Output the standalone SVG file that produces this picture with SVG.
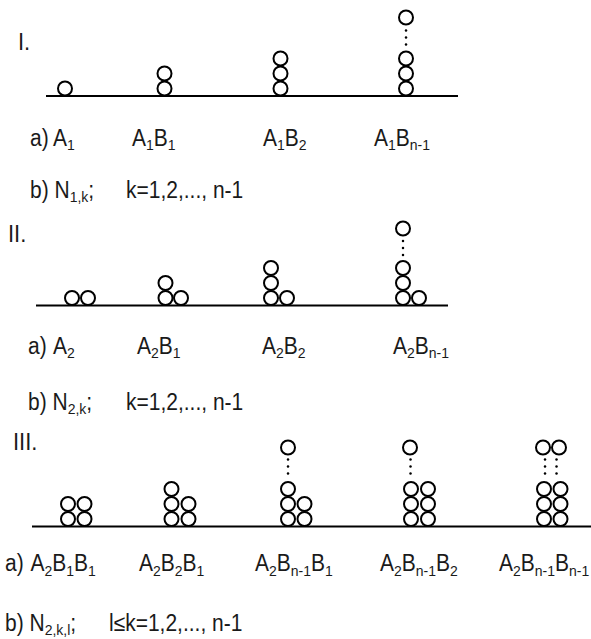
<svg xmlns="http://www.w3.org/2000/svg" width="591" height="639" viewBox="0 0 591 639">
<style>
.t{font-family:"Liberation Sans",Arial,sans-serif;font-size:21px;fill:#1a1a1a}
.r{font-size:22px}
.s{font-size:14px}
.c{fill:none;stroke:#000;stroke-width:2}
.d{fill:#000}
.g{stroke:#000;stroke-width:2}
</style>
<defs>
<circle id="b" r="7" class="c"/>
<g id="dots"><circle cx="0" cy="0" r="1.25" class="d"/><circle cx="0" cy="7" r="1.25" class="d"/><circle cx="0" cy="14" r="1.25" class="d"/></g>
</defs>
<rect width="591" height="639" fill="#fff"/>

<g id="ground">
<line x1="46" y1="96" x2="458" y2="96" class="g"/>
<line x1="36" y1="305.5" x2="448" y2="305.5" class="g"/>
<line x1="32" y1="526.5" x2="591" y2="526.5" class="g"/>
</g>

<!-- Section I -->
<g id="secI">
<g transform="matrix(1 0 0 1.1 0 -5)"><text class="t r" x="18" y="50">I.</text></g>
<g id="I-A1"><use href="#b" x="65" y="88.5"/></g>
<g id="I-A1B1"><use href="#b" x="164.5" y="88.5"/><use href="#b" x="164.5" y="73.5"/></g>
<g id="I-A1B2"><use href="#b" x="280.5" y="88.5"/><use href="#b" x="280.5" y="73.5"/><use href="#b" x="280.5" y="58.5"/></g>
<g id="I-A1Bn1"><use href="#b" x="406" y="88.5"/><use href="#b" x="406" y="73.5"/><use href="#b" x="406" y="58.5"/><use href="#b" x="406" y="17.5"/><use href="#dots" x="406" y="30.5"/></g>
<g transform="matrix(1 0 0 1.1 0 -14.6)">
<text class="t" x="30" y="146">a)</text>
<text class="t" x="53" y="146">A<tspan class="s" dy="4">1</tspan></text>
<text class="t" x="132" y="146">A<tspan class="s" dy="4">1</tspan><tspan dy="-4">B</tspan><tspan class="s" dy="4">1</tspan></text>
<text class="t" x="263" y="146">A<tspan class="s" dy="4">1</tspan><tspan dy="-4">B</tspan><tspan class="s" dy="4">2</tspan></text>
<text class="t" x="374" y="146">A<tspan class="s" dy="4">1</tspan><tspan dy="-4">B</tspan><tspan class="s" dy="4">n-1</tspan></text>
</g>
<g transform="matrix(1 0 0 1.1 0 -19.8)">
<text class="t" x="30" y="198">b) N<tspan class="s" dy="4">1,k</tspan><tspan dy="-4">;</tspan></text>
<text class="t" x="126" y="198">k=1,2,..., n-1</text>
</g>
</g>

<!-- Section II -->
<g id="secII">
<g transform="matrix(1 0 0 1.1 0 -24.2)"><text class="t r" x="8" y="242">II.</text></g>
<g id="II-A2"><use href="#b" x="72" y="298"/><use href="#b" x="88" y="298"/></g>
<g id="II-A2B1"><use href="#b" x="165.5" y="298"/><use href="#b" x="165.5" y="283"/><use href="#b" x="181" y="298"/></g>
<g id="II-A2B2"><use href="#b" x="271" y="298"/><use href="#b" x="271" y="283"/><use href="#b" x="271" y="268"/><use href="#b" x="287" y="298"/></g>
<g id="II-A2Bn1"><use href="#b" x="403" y="298"/><use href="#b" x="403" y="283"/><use href="#b" x="403" y="268"/><use href="#b" x="419" y="298"/><use href="#b" x="403" y="228.5"/><use href="#dots" x="403" y="241"/></g>
<g transform="matrix(1 0 0 1.1 0 -35.4)">
<text class="t" x="28" y="354">a)</text>
<text class="t" x="53" y="354">A<tspan class="s" dy="4">2</tspan></text>
<text class="t" x="137" y="354">A<tspan class="s" dy="4">2</tspan><tspan dy="-4">B</tspan><tspan class="s" dy="4">1</tspan></text>
<text class="t" x="262" y="354">A<tspan class="s" dy="4">2</tspan><tspan dy="-4">B</tspan><tspan class="s" dy="4">2</tspan></text>
<text class="t" x="393" y="354">A<tspan class="s" dy="4">2</tspan><tspan dy="-4">B</tspan><tspan class="s" dy="4">n-1</tspan></text>
</g>
<g transform="matrix(1 0 0 1.1 0 -41)">
<text class="t" x="28" y="410">b) N<tspan class="s" dy="4">2,k</tspan><tspan dy="-4">;</tspan></text>
<text class="t" x="126" y="410">k=1,2,..., n-1</text>
</g>
</g>

<!-- Section III -->
<g id="secIII">
<g transform="matrix(1 0 0 1.1 0 -45)"><text class="t r" x="13" y="450">III.</text></g>
<g id="III-A2B1B1"><use href="#b" x="68" y="519"/><use href="#b" x="68" y="504"/><use href="#b" x="84.5" y="519"/><use href="#b" x="84.5" y="504"/></g>
<g id="III-A2B2B1"><use href="#b" x="171.5" y="519"/><use href="#b" x="171.5" y="504"/><use href="#b" x="171.5" y="489"/><use href="#b" x="188.5" y="519"/><use href="#b" x="188.5" y="504"/></g>
<g id="III-A2Bn1B1"><use href="#b" x="288" y="519"/><use href="#b" x="288" y="504"/><use href="#b" x="288" y="489"/><use href="#b" x="288" y="447.5"/><use href="#dots" x="288" y="459.5"/><use href="#b" x="304.5" y="519"/><use href="#b" x="304.5" y="504"/></g>
<g id="III-A2Bn1B2"><use href="#b" x="411" y="519"/><use href="#b" x="411" y="504"/><use href="#b" x="411" y="489"/><use href="#b" x="410" y="447.5"/><use href="#dots" x="410.5" y="459.5"/><use href="#b" x="428" y="519"/><use href="#b" x="428" y="504"/><use href="#b" x="428" y="489"/></g>
<g id="III-A2Bn1Bn1"><use href="#b" x="544" y="519"/><use href="#b" x="544" y="504"/><use href="#b" x="544" y="489"/><use href="#b" x="543" y="447.5"/><use href="#dots" x="545" y="459.5"/><use href="#b" x="560.5" y="519"/><use href="#b" x="560.5" y="504"/><use href="#b" x="560.5" y="489"/><use href="#b" x="559" y="447.5"/><use href="#dots" x="556.5" y="459.5"/></g>
<g transform="matrix(1 0 0 1.1 0 -57.15)">
<text class="t" x="5" y="571.5">a)</text>
<text class="t" x="30.5" y="571.5">A<tspan class="s" dy="4">2</tspan><tspan dy="-4">B</tspan><tspan class="s" dy="4">1</tspan><tspan dy="-4">B</tspan><tspan class="s" dy="4">1</tspan></text>
<text class="t" x="139" y="571.5">A<tspan class="s" dy="4">2</tspan><tspan dy="-4">B</tspan><tspan class="s" dy="4">2</tspan><tspan dy="-4">B</tspan><tspan class="s" dy="4">1</tspan></text>
<text class="t" x="255" y="571.5">A<tspan class="s" dy="4">2</tspan><tspan dy="-4">B</tspan><tspan class="s" dy="4">n-1</tspan><tspan dy="-4">B</tspan><tspan class="s" dy="4">1</tspan></text>
<text class="t" x="380" y="571.5">A<tspan class="s" dy="4">2</tspan><tspan dy="-4">B</tspan><tspan class="s" dy="4">n-1</tspan><tspan dy="-4">B</tspan><tspan class="s" dy="4">2</tspan></text>
<text class="t" x="499" y="571.5">A<tspan class="s" dy="4">2</tspan><tspan dy="-4">B</tspan><tspan class="s" dy="4">n-1</tspan><tspan dy="-4">B</tspan><tspan class="s" dy="4">n-1</tspan></text>
</g>
<g transform="matrix(1 0 0 1.1 0 -63.1)">
<text class="t" x="5" y="631">b) N<tspan class="s" dy="4">2,k,l</tspan><tspan dy="-4">;</tspan></text>
<text class="t" x="109" y="631">l≤k=1,2,..., n-1</text>
</g>
</g>
</svg>
